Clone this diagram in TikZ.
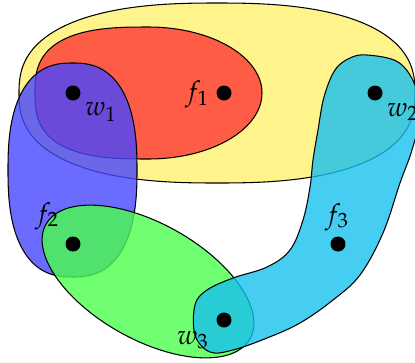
\documentclass[tikz,border=0pt]{standalone}
\usepackage{mathpazo}
\definecolor{cyell}{RGB}{255,243,140}
\definecolor{cred}{RGB}{255,92,69}
\definecolor{cblue}{RGB}{70,70,255}
\definecolor{cgreen}{RGB}{76,255,76}
\definecolor{ccyan}{RGB}{22,192,239}
\tikzset{
  region/.style={draw=black, line width=0.6pt},
  dot/.style={circle, fill=black, inner sep=0pt, minimum size=0.3cm},
  lab/.style={inner sep=0pt, font=\fontsize{15.5}{18}\selectfont},
}
\begin{document}
\begin{tikzpicture}[x=0.02cm, y=-0.02cm]
\useasboundingbox (0,0) rectangle (415,362);
% yellow (superellipse n=2.5)
\filldraw[region, fill=cyell] plot[domain=0:360, samples=181, variable=\t, smooth]
 ({217+198*cos(\t)*pow(abs(cos(\t))+0.00001,-0.2)}, {93+90*sin(\t)*pow(abs(sin(\t))+0.00001,-0.2)}) -- cycle;
% red (right half elliptic, left half squarer)
\filldraw[region, fill=cred]
 plot[domain=-90:90, samples=61, variable=\t, smooth] ({148.5+113.5*cos(\t)}, {93+66*sin(\t)})
 -- plot[domain=90:270, samples=61, variable=\t, smooth]
 ({148.5+113.5*cos(\t)*pow(abs(cos(\t))+0.00001,-0.2857)}, {93+66*sin(\t)*pow(abs(sin(\t))+0.00001,-0.2857)}) -- cycle;
% blue (superellipse n=2.5)
\filldraw[region, fill=cblue, fill opacity=0.8] plot[domain=0:360, samples=181, variable=\t, smooth]
 ({72.5+64.5*cos(\t)*pow(abs(cos(\t))+0.00001,-0.2)}, {170+107*sin(\t)*pow(abs(sin(\t))+0.00001,-0.2)}) -- cycle;
% green
\filldraw[region, fill=cgreen, fill opacity=0.8, rotate around={-29.3:(148,281.5)}] (148,281.5) ellipse [x radius=2.34cm, y radius=1.16cm];
% cyan
\filldraw[region, fill=ccyan, fill opacity=0.8] plot[smooth cycle, tension=0.6] coordinates {
 (367,55) (398,62) (415,85) (420,115) (412,150) (400,183) (383,233) (360,275)
 (333,300) (300,323) (267,338) (233,350) (210,352) (195,335) (195,305) (207,290)
 (233,278) (267,267) (290,250) (303,220) (310,187) (313,160) (318,130) (324,97) (335,70) (350,58)};
% dots
\node[dot] (w1) at (73,93) {};
\node[dot] (f1) at (224,93) {};
\node[dot] (w2) at (375,93) {};
\node[dot] (f2) at (73,244) {};
\node[dot] (f3) at (338,244) {};
\node[dot] (w3) at (224,320) {};
% labels
\node[lab] (lw1) at (101,112) {$w_1$};
\node[lab] (lf1) at (197,94) {$f_1$};
\node[lab] (lw2) at (403,112) {$w_2$};
\node[lab] (lf2) at (47,216) {$f_2$};
\node[lab] (lf3) at (337,217) {$f_3$};
\node[lab] (lw3) at (193,340) {$w_3$};
\end{tikzpicture}
\end{document}
